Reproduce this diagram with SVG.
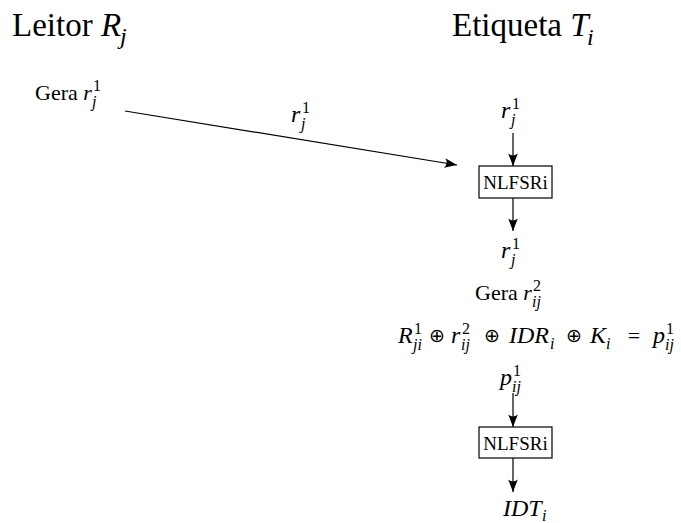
<svg xmlns="http://www.w3.org/2000/svg" width="681" height="523" viewBox="0 0 681 523">
<defs>
<style>
text{font-family:"Liberation Serif","Times New Roman",serif;fill:#000}
.t{font-size:33px}
.n{font-size:22px}
.m{font-size:24px;font-style:italic}
.s{font-size:16px}
.si{font-size:16px;font-style:italic}
.bx{font-size:19px}
.op{font-family:"DejaVu Sans",sans-serif;font-size:19px}
rect{fill:#fff;stroke:#000;stroke-width:1.2}
.c line{stroke:#000;stroke-width:1.2;fill:none}
</style>
<marker id="ah" markerUnits="userSpaceOnUse" markerWidth="14" markerHeight="12" viewBox="-13 -6 14 12" refX="0" refY="0" orient="auto">
<path d="M0,0 L-12.5,-4.8 Q-8.5,0 -12.5,4.8 Z" fill="#000"/>
</marker>
</defs>
<g id="title-reader">
<text class="t" x="12" y="36">Leitor <tspan font-style="italic">R</tspan></text>
<text class="m" x="120" y="44">j</text>
</g>
<g id="title-tag">
<text class="t" x="452" y="36">Etiqueta <tspan font-style="italic">T</tspan></text>
<text class="m" x="587" y="45">i</text>
</g>
<g id="gera-r1">
<text class="n" x="35" y="100">Gera <tspan font-style="italic">r</tspan></text>
<text class="s" x="93" y="91">1</text>
<text class="si" x="92" y="107">j</text>
</g>
<g id="label-r1-arrow">
<text class="m" x="291" y="122">r</text>
<text class="s" x="302" y="113">1</text>
<text class="si" x="301" y="129">j</text>
</g>
<g id="r1-in">
<text class="m" x="501" y="118">r</text>
<text class="s" x="512" y="109">1</text>
<text class="si" x="511" y="125">j</text>
</g>
<g id="nlfsr1">
<rect x="479" y="166" width="73" height="32"/>
<text class="bx" x="515.5" y="189" text-anchor="middle">NLFSRi</text>
</g>
<g id="r1-out">
<text class="m" x="501" y="258">r</text>
<text class="s" x="512" y="249">1</text>
<text class="si" x="511" y="265">j</text>
</g>
<g id="gera-r2">
<text class="n" x="475" y="300">Gera <tspan font-style="italic">r</tspan></text>
<text class="s" x="533" y="291">2</text>
<text class="si" x="532" y="307">ij</text>
</g>
<g id="formula">
<text class="m" x="398" y="343">R</text>
<text class="s" x="414" y="334">1</text>
<text class="si" x="413" y="350">ji</text>
<text class="op" x="437" y="342" text-anchor="middle">⊕</text>
<text class="m" x="451" y="343">r</text>
<text class="s" x="462" y="334">2</text>
<text class="si" x="461" y="350">ij</text>
<text class="op" x="492" y="342" text-anchor="middle">⊕</text>
<text class="m" x="509" y="343">IDR</text>
<text class="si" x="550" y="349">i</text>
<text class="op" x="574" y="342" text-anchor="middle">⊕</text>
<text class="m" x="590" y="343">K</text>
<text class="si" x="606" y="349">i</text>
<text class="n" x="634" y="343" text-anchor="middle" font-size="24px">=</text>
<text class="m" x="653" y="343">p</text>
<text class="s" x="666" y="334">1</text>
<text class="si" x="665" y="350">ij</text>
</g>
<g id="p1">
<text class="m" x="500" y="385">p</text>
<text class="s" x="513" y="376">1</text>
<text class="si" x="512" y="392">ij</text>
</g>
<g id="nlfsr2">
<rect x="479" y="427" width="73" height="31"/>
<text class="bx" x="515.5" y="449.5" text-anchor="middle">NLFSRi</text>
</g>
<g id="idt">
<text class="m" x="503" y="516">IDT</text>
<text class="si" x="542" y="521">i</text>
</g>
<g id="connectors" class="c">
<line x1="125" y1="111" x2="457" y2="165" marker-end="url(#ah)"/>
<line x1="513" y1="133" x2="513" y2="166" marker-end="url(#ah)"/>
<line x1="513" y1="198" x2="513" y2="231" marker-end="url(#ah)"/>
<line x1="513" y1="393" x2="513" y2="427" marker-end="url(#ah)"/>
<line x1="513" y1="458" x2="513" y2="492" marker-end="url(#ah)"/>
</g>
</svg>
